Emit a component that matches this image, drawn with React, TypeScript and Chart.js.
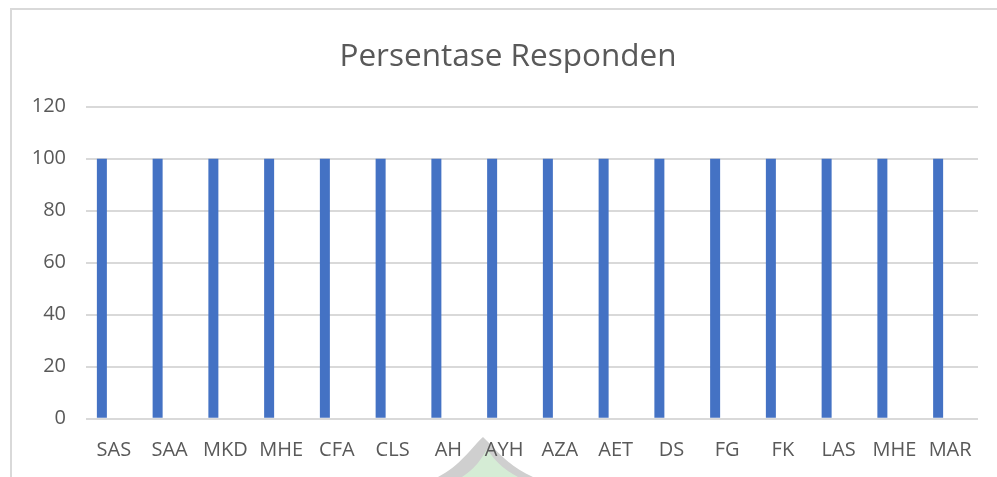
import React, { useEffect, useRef } from "react";
import { Chart, registerables } from "chart.js";

Chart.register(...registerables);

const categories = ["SAS", "SAA", "MKD", "MHE", "CFA", "CLS", "AH", "AYH", "AZA", "AET", "DS", "FG", "FK", "LAS", "MHE", "MAR"];
const persentase = [100, 100, 100, 100, 100, 100, 100, 100, 100, 100, 100, 100, 100, 100, 100, 100];
const emptySeries = [null, null, null, null, null, null, null, null, null, null, null, null, null, null, null, null];
const yTicks = [0, 20, 40, 60, 80, 100, 120];
const titleText = "Persentase Responden";

const titlePlugin = {
  id: "excelTitle",
  afterDraw(chart: any) {
    const ctx = chart.ctx;
    ctx.save();
    ctx.fillStyle = "#595959";
    ctx.font = "31.5px 'Open Sans', sans-serif";
    ctx.textAlign = "center";
    ctx.textBaseline = "alphabetic";
    ctx.fillText(titleText, 508, 65.5);
    ctx.restore();
  },
};

export default function App() {
  const ref = useRef<HTMLCanvasElement | null>(null);

  useEffect(() => {
    if (!ref.current) return;
    const chart = new Chart(ref.current, {
      type: "bar",
      data: {
        labels: categories,
        datasets: [
          {
            label: "Persentase",
            data: persentase,
            backgroundColor: "#4472C4",
            borderWidth: 0,
            barPercentage: 10 / 24,
            categoryPercentage: 48 / 55.75,
          },
          {
            label: "",
            data: emptySeries as any,
            backgroundColor: "#ED7D31",
            borderWidth: 0,
            barPercentage: 10 / 24,
            categoryPercentage: 48 / 55.75,
          },
        ],
      },
      plugins: [titlePlugin],
      options: {
        animation: false,
        responsive: false,
        maintainAspectRatio: false,
        layout: { padding: { left: 0, right: 19, top: 106.7, bottom: 0 } },
        plugins: {
          legend: { display: false },
          tooltip: { enabled: false },
          title: { display: false },
        },
        scales: {
          x: {
            grid: { display: false, drawTicks: false },
            border: { display: false },
            ticks: {
              color: "#595959",
              font: { family: "'Open Sans', sans-serif", size: 20 },
              padding: 20,
              maxRotation: 0,
              autoSkip: false,
            },
            afterFit: (scale: any) => {
              scale.height = 477 - 418.7;
            },
          },
          y: {
            min: 0,
            max: 120,
            afterBuildTicks: (scale: any) => {
              scale.ticks = yTicks.map((v) => ({ value: v }));
            },
            grid: { color: "#d9d9d9", lineWidth: 2, drawTicks: false },
            border: { display: false },
            ticks: {
              color: "#595959",
              font: { family: "'Open Sans', sans-serif", size: 20 },
              padding: 20,
            },
            afterFit: (scale: any) => {
              scale.width = 86;
            },
          },
        },
      },
    });
    return () => chart.destroy();
  }, []);

  return (
    <div style={{ position: "absolute", left: 0, top: 0, width: 997, height: 477, background: "#fff", overflow: "hidden" }}>
      <div
        style={{
          position: "absolute",
          left: 10,
          top: 8,
          width: 1000,
          height: 480,
          borderTop: "2px solid #d9d9d9",
          borderLeft: "2px solid #d9d9d9",
          boxSizing: "border-box",
        }}
      />
      <svg width={997} height={477} style={{ position: "absolute", left: 0, top: 0 }}>
        <path d="M438 477 C460 466, 473 446, 483 437 C493 446, 507 466, 533 477 Z" fill="#cfcfcf" />
        <path d="M462 477 C475 469, 482 458, 487 449 C493 458, 502 469, 518 477 Z" fill="#d5ecd5" />
      </svg>
      <canvas ref={ref} width={997} height={477} style={{ position: "absolute", left: 0, top: 0, width: 997, height: 477 }} />
    </div>
  );
}
